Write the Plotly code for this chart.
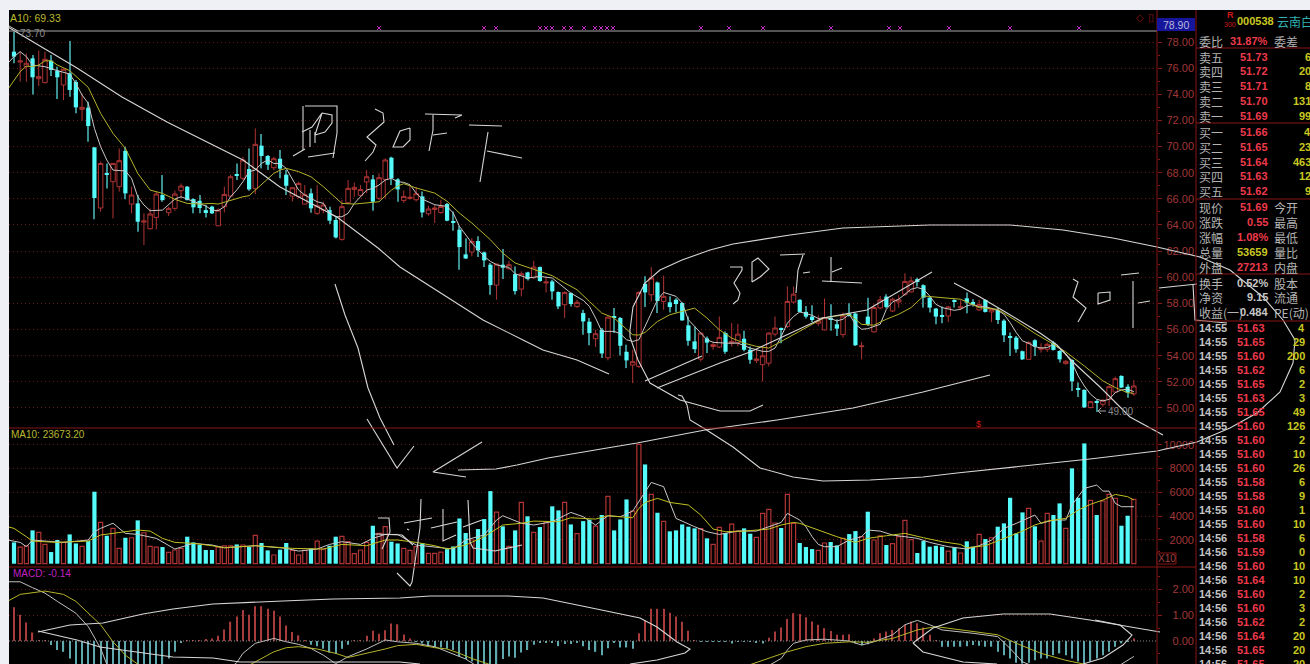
import plotly.graph_objects as go

W, H = 1310, 664
X0, STEP = 14.0, 6.187
GRID = "#6a1717"
FRAME = "#8a1616"
AXTXT = "#a03838"
UP = "#b03434"
CY = "#55fbfb"
CYW = "#3c8f8f"

opens = [77.26,76.47,76.11,76.75,75.19,74.89,76.57,75.81,74.71,75.6,
74.94,72.85,72.97,69.94,65.3,67.95,67.31,66.93,69.66,65.6,
65.65,64.22,63.71,64.58,66.29,64.94,65.27,66.62,66.93,65.98,
65.85,65.14,65.4,63.94,65.4,66.21,67.87,67.57,68.28,66.8,
70.07,69.28,68.38,69.07,67.85,66.21,66.16,65.6,66.42,64.89,
65.14,65.14,64.38,62.9,65.7,66.72,66.27,67.29,67.49,66.04,
67.49,69.15,67.49,65.88,66.04,65.93,66.19,64.86,65.19,64.96,
65.6,64.28,63.64,61.75,61.93,62.77,61.9,60.96,59.4,60.96,
60.65,60.24,59.1,60.37,59.96,60.78,59.56,59.68,58.87,57.9,
58.79,57.77,57.26,56.6,55.3,55.98,53.84,57.0,56.88,54.3,
53.28,53.18,59.5,58.66,59.6,58.15,58.08,58.28,58.03,56.32,
55.09,53.74,55.32,54.7,54.66,55.73,54.96,55.0,55.3,54.45,
53.64,53.31,53.43,55.65,56.11,56.24,58.1,58.27,57.35,56.99,
56.48,55.97,56.91,56.4,55.61,57.24,57.22,54.69,56.99,55.82,
57.65,58.52,57.42,58.11,58.7,58.88,59.85,59.39,58.44,57.6,
57.04,57.04,58.2,57.65,58.39,58.11,57.5,58.27,57.35,57.5,
56.68,55.46,55.38,54.34,53.72,55.18,54.49,54.49,55.0,54.36,
53.39,53.67,51.53,51.38,50.03,50.51,50.28,50.66,51.22,52.45,
51.63,51.07]
closes = [76.88,76.55,76.37,75.3,75.35,76.67,75.86,75.3,75.91,74.33,
73.0,73.0,71.57,66.06,68.71,67.9,68.71,68.92,66.42,66.29,
64.25,64.3,64.84,66.37,65.9,65.27,66.37,66.98,65.9,65.35,
65.3,64.99,64.89,65.14,66.34,67.69,67.77,68.97,66.72,70.17,
69.28,68.61,69.07,68.31,67.0,66.85,67.18,66.32,65.27,65.47,
65.53,64.33,63.05,65.4,66.8,66.88,66.72,67.69,65.78,67.62,
68.97,67.57,66.72,66.19,66.11,66.39,64.96,65.22,65.3,65.42,
64.33,64.2,62.31,61.44,62.74,62.06,61.29,59.4,61.01,60.73,
60.96,58.94,60.27,59.86,60.78,59.71,59.63,58.92,57.77,58.84,
57.95,58.08,56.62,55.73,55.68,54.17,56.95,56.9,54.76,53.64,
53.54,58.84,58.84,59.94,58.18,58.54,57.72,57.95,56.7,55.14,
54.5,55.73,55.0,54.84,55.4,54.3,55.09,55.65,54.45,53.69,
53.74,53.99,55.73,56.11,56.04,58.15,58.71,57.35,56.99,56.73,
56.66,56.91,56.73,56.07,57.04,57.09,54.8,54.74,56.38,57.68,
58.27,57.73,58.32,58.27,59.67,59.72,59.64,58.44,57.68,56.99,
56.96,57.73,58.11,57.73,58.06,57.91,57.91,57.35,57.55,56.73,
55.56,55.36,54.49,53.72,55.0,54.69,54.59,54.87,54.44,53.72,
53.57,52.04,51.38,50.05,50.48,50.41,50.59,51.63,52.24,51.56,
51.17,51.68]
highs = [78.79,77.26,77.13,77.0,77.34,77.26,77.0,76.11,75.98,78.08,
75.09,74.07,73.43,69.94,68.84,68.7,68.71,69.86,69.99,66.93,
66.29,64.89,65.27,66.55,67.82,65.4,66.62,67.18,66.98,66.04,
66.29,65.53,65.47,65.27,66.93,67.85,68.71,69.22,69.86,71.39,
70.96,69.35,69.22,69.73,68.2,66.88,67.31,67.05,66.8,67.05,
65.78,65.4,64.63,65.91,67.44,67.24,67.05,68.2,67.82,67.95,
69.1,69.22,67.57,66.65,66.95,66.9,66.57,65.47,65.55,65.93,
65.68,65.04,63.94,62.99,62.99,63.13,61.98,61.09,61.04,62.16,
61.27,60.83,60.45,60.42,61.27,60.83,60.02,59.81,58.92,58.92,
58.84,58.28,57.51,56.88,55.98,56.11,57.0,57.64,56.95,54.84,
54.45,58.92,60.07,60.78,59.68,60.12,58.54,58.4,58.08,57.0,
56.24,55.78,55.47,55.09,57.0,55.86,56.5,56.44,55.9,54.71,
54.45,54.71,55.78,57.0,56.16,59.3,59.3,58.32,57.8,57.86,
57.09,58.37,57.93,56.79,57.3,58.01,57.3,55.05,58.44,57.93,
58.57,58.7,58.44,58.62,60.31,60.05,59.97,59.46,58.57,57.65,
57.76,57.8,58.32,58.24,58.83,58.32,58.27,58.32,57.68,57.65,
56.79,55.77,55.51,54.39,55.1,55.26,54.95,55.0,55.13,54.44,
53.67,53.72,51.94,51.43,50.54,50.61,50.66,51.73,52.4,52.5,
51.81,52.14]
lows = [76.37,74.96,74.96,73.99,74.63,74.84,75.4,73.64,73.56,73.82,
72.54,71.98,70.37,64.43,65.02,66.8,64.5,66.55,65.96,64.89,
63.48,62.46,63.66,63.66,65.78,64.68,65.09,66.04,65.9,64.89,
64.89,64.58,64.84,63.94,64.96,66.16,67.44,67.44,66.62,66.37,
68.33,68.2,68.2,67.57,66.29,65.8,66.04,65.6,64.94,64.76,
64.89,64.07,62.97,62.8,65.6,66.16,66.16,66.42,65.09,65.91,
66.04,67.06,65.78,65.68,65.93,65.8,64.58,64.71,64.15,64.86,
64.28,63.56,60.58,61.39,61.6,61.55,60.78,58.66,58.28,59.86,
60.58,58.69,58.54,59.76,59.86,59.66,58.84,58.28,57.57,56.88,
57.77,57.64,55.6,54.79,54.66,53.82,53.64,55.73,54.02,53.05,
51.9,53.05,57.72,58.15,57.26,57.51,57.31,57.31,56.67,54.76,
54.2,53.56,54.2,54.45,54.58,54.15,54.7,54.71,54.33,53.38,
53.43,52.03,53.18,55.47,54.96,56.11,57.97,57.3,56.84,56.58,
56.28,55.94,55.91,55.51,55.38,56.99,54.75,53.72,56.28,55.77,
57.55,57.63,57.35,57.68,58.57,58.83,59.29,57.68,57.3,56.4,
56.48,56.58,57.68,57.5,57.24,57.76,57.42,57.3,56.58,56.43,
55.05,53.98,54.23,53.67,53.67,53.98,54.23,54.29,54.39,53.47,
53.32,51.3,50.84,50.0,49.97,49.69,50.1,50.15,51.17,51.53,
50.79,50.92]
volumes = [1790,1400,1500,2800,2630,1620,980,1990,1790,2460,
1700,1450,1900,6050,3470,2350,2970,1290,2180,2180,
3640,2600,1450,1400,1400,950,1150,1290,2270,1790,
1570,1150,1150,1400,1500,1500,1620,1570,1400,2380,
1740,1120,730,1180,1740,1120,730,1120,1290,1900,
1230,1510,2270,2300,1850,840,1150,1790,3190,2550,
3110,1850,1700,1290,1120,1430,1700,870,870,980,
1230,1450,3800,2580,1990,2910,3750,6100,4340,3140,
1450,2800,5150,3980,2630,3080,3470,4820,4480,5150,
3300,2520,3580,3700,3160,4090,5660,2800,3720,5400,
4420,10020,8340,5820,4280,3560,2720,2800,3300,3110,
2970,2940,2130,1620,3050,2580,3330,2740,2970,2520,
2210,4230,4560,3420,3000,5820,3390,1740,1400,1230,
1120,1740,1820,1540,2130,2490,2740,2270,4370,1990,
2350,1570,1680,2270,3640,2020,900,1900,1430,1510,
1430,1060,1370,900,1880,1430,2460,2070,2180,3110,
3390,5540,2550,4310,4650,3140,1900,4230,4090,5070,
2970,8010,5540,10110,5320,4090,5260,5820,5500,3190,
4030,5400]
macd_hist = [1.31,1.02,.72,.33,.02,.01,-.16,-.35,-.42,-.68,
-1.0,-1.3,-1.4,-1.5,-1.5,-1.5,-1.4,-1.3,-1.2,-1.2,
-1.1,-1.0,-1.0,-.95,-.9,-.68,-.42,-.05,.01,.01,
.03,.06,.1,.2,.45,.75,.95,1.2,1.02,1.35,
1.35,1.25,1.17,.95,.6,.35,.22,.01,-.15,-.2,
-.3,-.45,-.5,-.3,-.15,.01,.02,.2,.4,.28,
.42,.68,.65,.25,.1,-.02,-.1,-.2,-.25,-.25,
-.3,-.35,-.6,-.7,-.8,-.95,-.9,-.9,-.9,-.7,
-.6,-.65,-.45,-.35,-.15,-.08,-.05,-.08,-.2,-.12,
-.12,-.08,-.2,-.35,-.42,-.55,-.28,-.05,-.25,-.25,
-.3,.3,.8,1.25,1.25,1.25,1.1,.95,.75,.4,
.01,-.01,-.02,-.02,-.02,-.02,-.1,-.02,-.02,-.02,
-.05,-.1,.13,.37,.52,.85,1.08,1.05,.92,.76,
.63,.5,.39,.24,.24,.26,-.09,-.16,-.13,.1,
.3,.37,.43,.5,.63,.76,.69,.52,.24,.01,
-.22,-.22,-.22,-.22,-.2,-.16,-.18,-.22,-.22,-.42,
-.55,-.68,-.84,-.88,-.84,-.75,-.68,-.68,-.55,-.48,
-.55,-.68,-.8,-.88,-.8,-.68,-.55,-.42,-.22,-.09,
-.03,.1]

ma5_x = [-1,0,1,2,3,5,7,9,10,11,12,13,14,15,16,18,19,20,21,22,24,25,26,27,29,31,32,33,34,35,36,37,38,39,40,41,42,43,44,45,46,47,48,49,50,51,52,53,54,55,56,57,58,59,60,61,62,
63,64,65,66,68,70,71,72,74,76,77,78,79,80,81,83,85,87,88,90,92,93,94,95,97,98,99,100,101,102,103,104,105,107,108,109,110,111,112,113,115,117,119,121,122,123,124,125,126,127,
128,129,130,131,132,133,134,135,136,137,138,139,140,141,142,143,144,145,146,147,148,149,150,151,152,153,154,155,156,157,158,159,160,161,162,163,164,165,166,167,168,169,170,171,172,173,174,175,176,177,178,179,180,181]
ma5_y = [76.37,76.88,77.26,76.88,76.24,76.11,75.81,75.55,74.84,73.94,73.31,71.39,69.99,68.97,68.2,68.13,67.57,66.16,65.53,65.09,65.14,65.53,65.98,66.16,65.78,65.45,65.14,65.09,65.4,66.16,66.67,67.31,68.08,68.2,68.71,68.97,68.71,68.71,68.33,67.44,66.67,66.29,66.04,65.78,65.65,64.89,64.63,64.63,64.89,65.65,66.16,66.67,66.8,67.06,67.44,67.57,67.31,
67.26,67.08,66.44,65.98,65.55,65.42,64.91,63.89,62.62,61.6,61.21,60.96,60.83,60.76,60.27,59.94,60.07,59.94,59.56,58.79,58.23,57.77,56.88,55.86,55.86,55.68,55.22,55.09,55.22,56.24,57.39,58.28,58.84,58.54,58.03,56.75,56.24,55.73,55.22,55.02,54.96,54.96,54.58,54.33,54.33,54.58,55.47,56.49,57.0,57.35,
57.24,57.09,56.84,56.91,56.84,56.66,56.79,57.17,56.4,56.02,56.07,56.22,56.4,57.55,58.11,58.32,58.7,59.08,59.21,59.08,58.57,57.93,57.68,57.55,57.47,57.55,57.81,57.93,57.73,57.76,57.63,57.47,57.17,56.53,55.77,55.13,54.95,54.69,54.59,54.62,54.87,54.54,54.11,53.47,52.45,51.68,51.05,50.66,50.54,50.66,51.17,51.38,51.43,51.25]
ma10_x = [-1,1,2,3,4,5,6,7,9,10,12,14,16,18,20,22,24,26,28,30,32,33,35,37,38,40,42,43,44,46,48,50,52,53,55,57,59,61,62,
63,65,68,70,72,74,77,79,81,84,87,89,91,93,95,97,99,100,101,102,104,106,108,110,112,114,116,118,120,122,124,127,
129,131,135,137,139,141,143,145,147,150,153,156,159,162,165,168,170,173,176,178,180,181]
ma10_y = [74.38,75.73,76.16,76.11,76.24,76.55,76.57,76.24,75.81,75.4,74.53,72.54,71.01,69.86,67.95,66.67,66.42,65.96,65.65,65.6,65.65,65.6,65.91,66.16,66.24,67.06,67.95,68.2,68.33,68.08,67.69,66.93,66.04,65.65,65.6,65.7,65.78,66.67,66.98,
67.16,66.83,66.44,65.81,64.91,64.15,62.87,61.85,61.09,60.58,60.12,59.56,59.05,58.15,57.26,56.88,55.98,55.6,55.58,55.78,56.62,57.13,57.39,57.64,56.88,55.98,55.35,54.96,54.71,54.58,55.09,55.9,
56.4,56.91,57.17,56.4,56.33,56.79,57.17,57.68,58.57,58.44,58.32,57.68,57.55,56.66,55.71,54.87,54.29,53.21,52.07,51.56,51.17,51.12]

volma5_x = [-1,1,2,3,5,8,12,13,14,16,18,20,23,26,29,32,34,39,41,44,46,49,51,53,56,58,60,62,65,68,71,73,76,78,79,82,84,87,89,90,92,94,96,98,100,101,103,105,106,107,110,112,114,117,120,122,124,125,127,128,129,130,131,133,135,137,138,140,142,144,146,148,151,154,156,158,160,162,165,166,168,170,171,173,175,176,177,178,179,181]
volma5_y = [1990,1790,1430,1990,1900,1790,1990,2690,2970,3400,2550,2460,2130,1230,1710,1570,1340,1510,1430,1290,1060,1230,1620,1850,1620,2130,2460,2460,1570,1430,1230,1990,2420,3670,4030,3400,3250,3530,4090,4310,3950,3250,4030,3950,4420,5200,6830,6470,5070,3810,3110,2690,2460,2740,2740,3110,3470,4230,3670,3100,2270,1620,1430,1430,1990,2270,2830,2740,2410,2270,2130,1790,1430,1230,1510,1990,2970,3390,4090,3390,3670,3670,4930,6330,6610,6100,6100,5070,4790,4790]
volma10_x = [-1,0,2,3,7,12,14,17,20,22,24,26,29,32,34,39,42,45,50,53,57,60,62,63,65,68,70,73,76,79,82,84,88,90,94,96,100,101,102,104,106,109,111,113,115,118,122,124,126,127,130,133,136,138,141,144,147,150,153,154,157,160,163,165,167,170,172,174,176,178,180,181]
volma10_y = [3100,2970,2270,1900,1790,1900,2410,2630,2830,2740,2130,1790,1710,1510,1340,1510,1430,1290,1230,1620,1510,1990,1990,1930,1790,1510,1230,1570,2270,3250,3400,3580,3530,3860,3750,4030,3860,4650,5150,5490,5150,4930,4090,2910,2690,2740,2910,3250,3470,3390,2830,2270,1790,2130,2350,2550,2180,1850,1620,1340,1510,2130,2740,3250,3580,3810,4510,4990,5350,5820,5630,5350]

dif_x = [-1,1,3,5,7,10,12,14,15,17,25,33,36,37,39,42,44,46,48,50,52,54,57,60,62,63,65,68,70,73,75,80,90,100,110,118,122,124,125,126,128,131,135,137,139,142,144,146,148,150,155,159,161,163,165,170,176,179,181]
dif_y = [2.3,2.3,2.07,1.86,1.54,1.08,.56,-.29,-.9,-1.6,-1.9,-1.4,-.84,-.48,-.09,.1,-.03,-.13,-.29,-.55,-.88,-.61,-.31,.04,-.03,-.05,-.09,-.22,-.42,-.7,-1.0,-1.5,-1.5,-1.4,-1.3,-1.2,-.95,-.68,-.35,-.09,.04,.07,0,-.16,-.03,.24,.63,.8,.63,.43,.3,.17,-.29,-.81,-1.0,-1.2,-1.1,-.9,-.6]
dea_x = [-1,1,5,8,10,12,14,16,18,20,22,30,36,39,42,44,46,49,52,54,57,60,62,63,65,68,70,72,74,78,90,105,118,125,128,131,135,138,142,146,149,155,159,162,166,170,173,177,181]
dea_y = [1.55,1.81,1.94,1.81,1.54,1.08,.63,-.03,-.55,-.9,-1.2,-1.6,-1.2,-.81,-.42,-.26,-.22,-.31,-.48,-.64,-.48,-.31,-.18,-.16,-.13,-.26,-.31,-.48,-.68,-1.0,-1.4,-1.4,-1.0,-.42,-.22,-.09,-.03,-.05,.1,.43,.56,.37,.24,-.09,-.48,-.75,-.9,-1.0,-1.0]

price_ticks = [78,76,74,72,70,68,66,64,62,60,58,56,54,52,50]
vol_ticks = [10000,8000,6000,4000,2000]
macd_ticks = [2,1,0]

# hand-drawn pen strokes
strokes = [
 [(8,27),(77,68),(122,97),(167,122),(243,160),(280,187),(337,217),(378,248),(400,267),(433,288),(483,320),(523,340),(543,350),(577,360),(609,374)],
 [(305,106),(337,106),(337,133),(333,158)], [(303,106),(303,150)],
 [(322,113),(332,115),(332,123),(325,132),(315,135),(322,113),(312,127),(302,132)],
 [(310,130),(310,147)], [(315,132),(315,143)], [(293,156),(305,149)], [(308,157),(335,153)],
 [(375,109),(383,113),(384,122),(375,130),(367,137),(376,145),(373,152),(365,161)],
 [(410,128),(400,131),(393,147),(403,147),(410,140),(410,128)],
 [(425,114),(462,115),(455,118)], [(433,115),(433,130),(429,151)], [(433,135),(447,133)],
 [(469,125),(502,126)], [(488,132),(485,150),(480,182)], [(487,151),(522,158)],
 [(335,284),(345,315),(358,348),(368,388),(380,418),(394,445)],
 [(367,419),(397,468),(414,446)],
 [(482,442),(433,472),(466,477)],
 [(458,470),(496,469),(517,465),(548,458),(607,448),(637,443),(705,430),(777,420),(853,408),(923,392),(990,375)],
 [(378,518),(389,518),(390,532),(382,549)], [(375,534),(402,535),(413,545)], [(404,523),(432,518)],
 [(421,499),(420,528),(412,582),(410,586),(397,573)], [(407,529),(409,530)],
 [(431,528),(457,522)], [(443,509),(443,541),(456,535)], [(463,527),(482,520)],
 [(468,500),(470,542),(473,548),(495,551),(522,545)],
 [(645,381),(702,356)],
 [(657,388),(720,363),(750,352),(783,337),(823,318),(867,310),(932,272)],
 [(763,405),(750,411),(720,411),(680,400),(650,383),(638,360),(630,337),(630,330),(633,307),(645,283),(660,270),(682,260),(710,250),(733,244),(790,235),(843,228),(930,225),(1010,225),(1063,230),(1113,238),(1157,247),(1200,257),(1230,270),(1263,297),(1283,320),(1295,340),(1293,363),(1280,392),(1257,413),(1230,428),(1197,442),(1157,451),(1090,459),(1030,465),(957,473),(923,477),(870,480),(823,481),(793,477),(760,468),(733,447),(705,429),(690,420),(687,405),(682,396),(678,395)],
 [(730,267),(742,267),(742,270),(734,283),(740,293),(738,300),(733,304)],
 [(752,282),(752,262),(758,258),(769,269),(760,277),(752,282)],
 [(780,255),(805,254)], [(803,255),(798,270),(796,293)], [(803,273),(810,272)],
 [(831,257),(831,282)], [(832,272),(842,268)], [(822,281),(862,283)],
 [(954,283),(980,297),(1007,313),(1040,333),(1057,345),(1073,362),(1100,387),(1130,417),(1163,435)],
 [(1073,279),(1078,282),(1073,297),(1086,308),(1078,322)],
 [(1098,293),(1110,292),(1110,300),(1098,304),(1098,293)],
 [(1121,275),(1139,273)], [(1133,281),(1133,328)], [(1138,303),(1150,301)],
 [(1159,288),(1197,284)], [(1193,285),(1195,320),(1227,323)],
 [(38,632),(70,625),(103,623),(143,614),(173,609),(213,604),(283,601),(333,599),(400,598),(430,596),(507,596),(543,598),(587,607),(640,618),(657,627),(677,642),(690,649),(685,653),(657,660),(630,664)],
 [(38,631),(77,640),(100,647),(143,653),(173,657),(213,658),(240,662),(333,662),(400,662),(420,664)],
 [(913,643),(933,628),(963,618),(1003,614),(1050,614),(1090,620),(1160,632)],
 [(1095,620),(1120,625),(1132,635),(1123,645),(1103,658),(1083,664)],
 [(913,643),(923,652),(963,662),(997,664)],
]
trade_marks_x = [379,484,496,540,546,552,564,571,584,595,601,607,613,701,729,763,831,889,900,949,1010,1079]

book_labels = ["卖五","卖四","卖三","卖二","卖一","买一","买二","买三","买四","买五"]
book_prices = ["51.73","51.72","51.71","51.70","51.69","51.66","51.65","51.64","51.63","51.62"]
book_sizes = ["6","20","8","131","99","4","23","463","12","9"]
book_rows_y = [57,71,86,101,116,132,147,162,176,191]
stat_labels = ["现价","涨跌","涨幅","总量","外盘","换手","净资","收益(一)"]
stat_values = ["51.69","0.55","1.08%","53659","27213","0.52%","9.15","0.484"]
stat_colors = ["#ee3a4a","#ee3a4a","#ee3a4a","#c8c820","#ee3a4a","#c8c8c8","#c8c8c8","#c8c8c8"]
stat_right = ["今开","最高","最低","量比","内盘","股本","流通","PE(动)"]
stat_rows_y = [207,222,237,252,267,283,297,312]
tick_times = ["14:55"]*15 + ["14:56"]*10
tick_prices = ["51.63","51.65","51.60","51.62","51.65","51.63","51.65","51.60","51.60","51.60","51.60","51.58","51.58","51.60","51.60","51.58","51.59","51.60","51.64","51.60","51.60","51.62","51.64","51.65","51.65"]
tick_sizes = ["4","29","200","6","2","3","49","126","2","10","26","6","9","1","10","6","0","10","10","2","3","2","20","20","20"]

n = len(closes)
idx = list(range(n))
up = [i for i in idx if closes[i] >= opens[i]]
dn = [i for i in idx if closes[i] < opens[i]]

fig = go.Figure()
fig.add_bar(x=dn, y=[highs[i]-lows[i] for i in dn], base=[lows[i] for i in dn], width=0.17,
            marker=dict(color=CYW, line=dict(width=0)), xaxis="x", yaxis="y")
fig.add_bar(x=dn, y=[max(opens[i]-closes[i],0.06) for i in dn], base=[closes[i] for i in dn], width=0.68,
            marker=dict(color=CY, line=dict(width=0)), xaxis="x", yaxis="y")
fig.add_trace(go.Candlestick(x=up, open=[opens[i] for i in up], high=[highs[i] for i in up],
                             low=[lows[i] for i in up], close=[closes[i] for i in up],
                             increasing=dict(line=dict(color=UP, width=1), fillcolor="#000000"),
                             whiskerwidth=0, xaxis="x", yaxis="y"))
fig.add_scatter(x=ma5_x, y=ma5_y, mode="lines", line=dict(color="#c8c8c8", width=1), xaxis="x", yaxis="y")
fig.add_scatter(x=ma10_x, y=ma10_y, mode="lines", line=dict(color="#b4b42a", width=1), xaxis="x", yaxis="y")

fig.add_bar(x=dn, y=[volumes[i] for i in dn], width=0.68, marker=dict(color=CY, line=dict(width=0)), xaxis="x", yaxis="y2")
fig.add_bar(x=up, y=[volumes[i] for i in up], width=0.66, marker=dict(color="#000000", line=dict(color=UP, width=1.2)), xaxis="x", yaxis="y2")
fig.add_scatter(x=volma5_x, y=volma5_y, mode="lines", line=dict(color="#c8c8c8", width=1), xaxis="x", yaxis="y2")
fig.add_scatter(x=volma10_x, y=volma10_y, mode="lines", line=dict(color="#c0c020", width=1), xaxis="x", yaxis="y2")

pos = [i for i in idx if macd_hist[i] >= 0]
neg = [i for i in idx if macd_hist[i] < 0]
fig.add_bar(x=pos, y=[macd_hist[i] for i in pos], width=0.2, marker=dict(color="#a83c3c", line=dict(width=0)), xaxis="x", yaxis="y3")
fig.add_bar(x=neg, y=[macd_hist[i] for i in neg], width=0.2, marker=dict(color="#5fa8ae", line=dict(width=0)), xaxis="x", yaxis="y3")
fig.add_scatter(x=dif_x, y=dif_y, mode="lines", line=dict(color="#c0c0c0", width=1), xaxis="x", yaxis="y3")
fig.add_scatter(x=dea_x, y=dea_y, mode="lines", line=dict(color="#b4b42a", width=1), xaxis="x", yaxis="y3")

for ya in ("y4", "y5", "y6"):
    fig.add_scatter(x=[None], y=[None], xaxis="x", yaxis=ya, hoverinfo="skip")

sx, sy = [], []
for s in strokes:
    sx += [p[0] for p in s] + [None]
    sy += [p[1] for p in s] + [None]
fig.add_scatter(x=sx, y=sy, mode="lines", line=dict(color="#d6d6d6", width=1.1), xaxis="x2", yaxis="y7")
fig.add_scatter(x=trade_marks_x, y=[28]*len(trade_marks_x), mode="markers",
                marker=dict(symbol="x-thin", size=4, line=dict(color="#c030c0", width=1)), xaxis="x2", yaxis="y7")

def px_x(a): return a / W
def px_y(a): return 1 - a / H
xr = [(9-X0)/STEP, (1157-X0)/STEP]
pr = [78-(428-42)/13.07, 78+(42-10)/13.07]
vr = [-(567-563.7)/23.8*2000, (563.7-428)/23.8*2000]
mr = [-(664-641)/25.75, (641-567)/25.75]
fnt = dict(family="Liberation Sans", size=11, color=AXTXT)

def main_axis(dom, rng, ticks, minor):
    return dict(domain=dom, range=rng, anchor="free", position=px_x(1157), side="right", tickvals=ticks,
                showticklabels=False, ticks="outside", ticklen=4, tickcolor=FRAME, showline=False,
                showgrid=True, gridcolor=GRID, griddash="1px,3px", gridwidth=1, zeroline=False,
                minor=dict(tickvals=minor, ticks="outside", ticklen=2, tickcolor=FRAME, showgrid=False))
def label_axis(over, dom, rng, ticks, text):
    return dict(domain=dom, range=rng, overlaying=over, anchor="free", position=px_x(1194), side="left",
                tickvals=ticks, ticktext=text, tickfont=fnt, ticks="", showgrid=False, zeroline=False, showline=False)

dp = [px_y(428), px_y(10)]
dv = [px_y(567), px_y(428)]
dm = [0, px_y(567)]
fig.update_layout(
    width=W, height=H, margin=dict(l=0, r=0, t=0, b=0, pad=0), autosize=False,
    paper_bgcolor="#eef0f6", plot_bgcolor="rgba(0,0,0,0)", showlegend=False, barmode="overlay", hovermode=False,
    boxgap=0.15, boxgroupgap=0.15,
    xaxis=dict(domain=[px_x(9), px_x(1157)], range=xr, visible=False, rangeslider=dict(visible=False), anchor="y3"),
    xaxis2=dict(domain=[0, 1], range=[0, W], visible=False, anchor="y7", fixedrange=True),
    yaxis=main_axis(dp, pr, price_ticks, [50+i for i in range(29)]),
    yaxis2=main_axis(dv, vr, vol_ticks, [1000*i for i in range(1, 11)]),
    yaxis3=dict(main_axis(dm, mr, macd_ticks[:2], [0.5, 1.5, 2.5, -0.5])),
    yaxis4=label_axis("y", dp, pr, price_ticks, [f"{v:.2f}" for v in price_ticks]),
    yaxis5=label_axis("y2", dv, vr, vol_ticks, [str(v) for v in vol_ticks]),
    yaxis6=label_axis("y3", dm, mr, macd_ticks, [f"{v:.2f}" for v in macd_ticks]),
    yaxis7=dict(domain=[0, 1], range=[H, 0], visible=False, anchor="x2"),
)

shapes = [dict(type="rect", xref="paper", yref="paper", x0=9/W, x1=1, y0=0, y1=1-10/H,
               fillcolor="#000000", line=dict(width=0), layer="below")]
def rect(x0, y0, x1, y1, fill, line=None, layer="above"):
    shapes.append(dict(type="rect", xref="x2", yref="y7", x0=x0, y0=y0, x1=x1, y1=y1, fillcolor=fill,
                       line=dict(color=line or fill, width=1 if line else 0), layer=layer))
def seg(x0, y0, x1, y1, color=FRAME, width=1, dash=None):
    shapes.append(dict(type="line", xref="x2", yref="y7", x0=x0, y0=y0, x1=x1, y1=y1,
                       line=dict(color=color, width=width, dash=dash or "solid"), layer="above"))
seg(9, 31, 1157, 31, "#a8a8a8", 1)
seg(9, 428, 1196, 428)
seg(9, 567, 1196, 567)
seg(1157, 10, 1157, H)
seg(1196, 10, 1196, H)
seg(9, 641, 1157, 641, "#8c8c8c", 1, "1px,2px")
for y in (48, 123, 199, 274, 321):
    seg(1196, y, W, y)
rect(1157, 18, 1195, 31, "#16169c")
rect(1157, 553, 1176, 564, "#000000", FRAME)
seg(9, 26, 18, 31, "#c8c8c8", 1)
seg(1106, 411, 1098, 411, "#a8a8a8", 1)
seg(1098, 411, 1101, 408, "#a8a8a8", 1)
seg(1098, 411, 1101, 414, "#a8a8a8", 1)
fig.update_layout(shapes=shapes)

LAT = "Liberation Sans"
CJK = "Noto Sans CJK SC"
ann = []
def txt(x, y, s, color, size, anchor="left", family=LAT, bold=False, xshift=0):
    ann.append(dict(x=x, y=y, xref="x2", yref="y7", text=f"<b>{s}</b>" if bold else s, showarrow=False,
                    xanchor=anchor, yanchor="middle", borderpad=0, xshift=xshift,
                    font=dict(family=family, size=size, color=color)))
GR = "#b4b4b4"
RD = "#ee3a4a"
YL = "#c8c820"
txt(9, 18, "A10: 69.33", "#b8b830", 10.5)
txt(10, 434, "MA10: 23673.20", "#b8b830", 10)
txt(12, 573, "MACD: -0.14", "#c020c0", 10)
txt(19, 33, "73.70", "#8c8c8c", 10)
txt(1107, 411, "49.00", "#8c8c8c", 10)
txt(978, 424, "$", "#d01818", 9, "center")
txt(1176, 25, "78.90", "#b8b8d8", 10.5, "center")
txt(1166.5, 558.5, "X10", "#a04040", 10, "center")
txt(1140, 17, "◇", "#8a1616", 10, "center")
txt(1151, 17, "▯", "#8a1616", 11, "center")
txt(1230, 15, "R", "#d01818", 9, "center", bold=True)
txt(1230, 24, "300", "#d01818", 7, "center")
txt(1236, 21, "000538", YL, 11, bold=True)
txt(1276, 21, "云南白药", "#30b0b0", 12, family=CJK)
txt(1198, 41, "委比", GR, 12, family=CJK)
txt(1269, 41, "31.87%", RD, 11, "right", bold=True)
txt(1273, 41, "委差", GR, 12, family=CJK)
for lab, pr_, sz, y in zip(book_labels, book_prices, book_sizes, book_rows_y):
    txt(1198, y, lab, GR, 12, family=CJK)
    txt(1269, y, pr_, RD, 11, "right", bold=True)
    txt(1309, y, sz, YL, 11, "right", bold=True, xshift=3)
for lab, val, col, rt, y in zip(stat_labels, stat_values, stat_colors, stat_right, stat_rows_y):
    txt(1198, y, lab, GR, 12, family=CJK)
    txt(1269, y, val, col, 11, "right", bold=True)
    txt(1273, y, rt, GR, 12, family=CJK)
for i, (t, p, v) in enumerate(zip(tick_times, tick_prices, tick_sizes)):
    y = 328 + 14 * i
    txt(1198, y, t, "#c4c4c4", 11, bold=True)
    txt(1266, y, p, RD, 11, "right", bold=True)
    txt(1306, y, v, YL, 11, "right", bold=True)
fig.update_layout(annotations=ann)

fig.write_html("out.html", config=dict(displayModeBar=False),
               post_script="document.body.style.margin='0';document.documentElement.style.overflow='hidden';")
